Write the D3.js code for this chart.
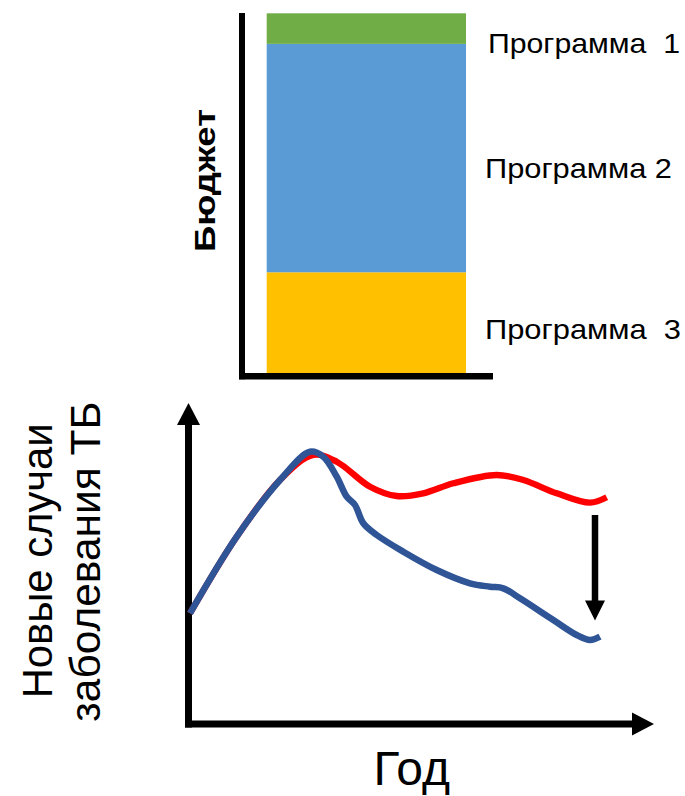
<!DOCTYPE html>
<html><head><meta charset="utf-8">
<script src="https://cdn.jsdelivr.net/npm/d3@7"></script>
<style>html,body{margin:0;padding:0;background:#fff;overflow:hidden}</style>
</head><body>
<script>
// ---- Data: top stacked budget bar (bottom to top) ----
const programLabels = ["Программа  3", "Программа 2", "Программа  1"];
const budgetShares = [28, 63.5, 8.5];
const budgetAxisLabel = "Бюджет";

// ---- Data: bottom chart (new TB cases over years) ----
const redYears  = [0.2, 4.87, 9.2, 12.53, 14.87, 18.2, 20.87, 23.53, 26.53, 30.87, 33.53, 36.87, 40.2, 41.87];
const redCases  = [11.07, 18.73, 24.4, 26.9, 26.23, 23.73, 22.8, 23.07, 24.07, 24.9, 24.4, 23.07, 22.13, 22.67];
const blueYears = [0.2, 4.87, 9.2, 12.2, 13.53, 14.87, 15.87, 16.7, 17.53, 18.87, 21.53, 24.87, 28.2, 30.2, 31.53, 33.2, 36.53, 38.87, 40.2, 41.2];
const blueCases = [11.07, 18.73, 24.4, 27.23, 26.73, 24.73, 22.73, 21.9, 20.07, 18.9, 17.23, 15.4, 14.07, 13.73, 13.57, 12.57, 10.4, 8.9, 8.4, 8.73];
const gapArrowYear = [40.7];
const gapArrowCases = [20.9, 10.35];
const casesLabelLines = ["Новые случаи", "заболевания ТБ"];
const yearLabel = "Год";

// ---- Styles ----
const programColors = ["#FFC000", "#5B9BD5", "#70AD47"];
const FONT = "'Liberation Sans', Arial, sans-serif";

const svg = d3.select("body").append("svg")
  .attr("width", 685).attr("height", 796)
  .style("display", "block");

// ================= TOP: stacked budget bar =================
const barX = d3.scaleBand().domain([budgetAxisLabel]).range([266.7, 466]).padding(0);
const budgetY = d3.scaleLinear().domain([0, 100]).range([373, 13.3]);
const ends = d3.cumsum(budgetShares);
const segs = budgetShares.map((v, i) => ({ label: programLabels[i], y0: ends[i] - v, y1: ends[i], i }));

svg.append("g").selectAll("rect").data(segs).join("rect")
  .attr("x", barX(budgetAxisLabel))
  .attr("width", barX.bandwidth())
  .attr("y", d => budgetY(d.y1))
  .attr("height", d => budgetY(d.y0) - budgetY(d.y1))
  .attr("fill", d => programColors[d.i]);

// axes
svg.append("line").attr("x1", 242).attr("x2", 242)
  .attr("y1", budgetY(100) - 0.3).attr("y2", budgetY(0) + 6.3)
  .attr("stroke", "#000").attr("stroke-width", 6);
svg.append("line").attr("x1", 239).attr("x2", 493)
  .attr("y1", budgetY(0) + 3.2).attr("y2", budgetY(0) + 3.2)
  .attr("stroke", "#000").attr("stroke-width", 6.5);

// program labels
const labelDy = [16, 19.5, 24.3];
const labelX = [485, 485, 488];
const labelLen = [196, 187, 192];
svg.append("g").selectAll("text").data(segs).join("text")
  .attr("x", d => labelX[d.i])
  .attr("y", d => budgetY((d.y0 + d.y1) / 2) + labelDy[d.i])
  .attr("font-family", FONT).attr("font-size", 27.5)
  .attr("fill", "#000")
  .style("white-space", "pre")
  .attr("textLength", d => labelLen[d.i])
  .attr("lengthAdjust", "spacingAndGlyphs")
  .text(d => d.label);

svg.append("text")
  .attr("transform", "translate(215,252) rotate(-90)")
  .attr("font-family", FONT).attr("font-size", 30).attr("font-weight", "bold")
  .attr("textLength", 143).attr("lengthAdjust", "spacingAndGlyphs")
  .text(budgetAxisLabel);

// ================= BOTTOM: cases over time =================
const x = d3.scaleLinear().domain([0, 46.6]).range([188, 654]);
const y = d3.scaleLinear().domain([0, 32.1]).range([724, 403]);

// axes with arrowheads
const axisG = svg.append("g");
axisG.append("line").attr("x1", x(0) + 0.5).attr("x2", x(0) + 0.5)
  .attr("y1", y(0) + 3.5).attr("y2", y(29.9))
  .attr("stroke", "#000").attr("stroke-width", 7);
axisG.append("path")
  .attr("d", `M${x(0)+0.5},${y(32.1)} L${x(0)+12},${y(29.9)} L${x(0)-11},${y(29.9)} Z`)
  .attr("fill", "#000");
axisG.append("line").attr("x1", x(0) - 3).attr("x2", x(44.4))
  .attr("y1", y(0)).attr("y2", y(0))
  .attr("stroke", "#000").attr("stroke-width", 7);
axisG.append("path")
  .attr("d", `M${x(46.6)},${y(0)} L${x(44.4)},${y(0)-11.5} L${x(44.4)},${y(0)+11.5} Z`)
  .attr("fill", "#000");

const line = d3.line().x(d => x(d[0])).y(d => y(d[1])).curve(d3.curveCatmullRom.alpha(0.5));
const redPts = redYears.map((t, i) => [t, redCases[i]]);
const bluePts = blueYears.map((t, i) => [t, blueCases[i]]);

svg.append("path").attr("d", line(redPts))
  .attr("fill", "none").attr("stroke", "#FF0000").attr("stroke-width", 6.3);
svg.append("path").attr("d", line(bluePts))
  .attr("fill", "none").attr("stroke", "#2F5597").attr("stroke-width", 6.5);

// gap arrow
const ax = x(gapArrowYear[0]);
svg.append("line").attr("x1", ax).attr("x2", ax)
  .attr("y1", y(gapArrowCases[0])).attr("y2", y(gapArrowCases[1]) - 18)
  .attr("stroke", "#000").attr("stroke-width", 6.5);
svg.append("path")
  .attr("d", `M${ax},${y(gapArrowCases[1])} L${ax-10},${y(gapArrowCases[1])-20} L${ax+10},${y(gapArrowCases[1])-20} Z`)
  .attr("fill", "#000");

// labels
const ylab = [{ t: casesLabelLines[0], bx: 51.7, sy: 698.3, len: 275 },
              { t: casesLabelLines[1], bx: 100, sy: 721.7, len: 320 }];
svg.append("g").selectAll("text").data(ylab).join("text")
  .attr("transform", d => `translate(${d.bx},${d.sy}) rotate(-90)`)
  .attr("font-family", FONT).attr("font-size", 43)
  .attr("textLength", d => d.len).attr("lengthAdjust", "spacingAndGlyphs")
  .text(d => d.t);

svg.append("text")
  .attr("x", 411.7).attr("y", 785)
  .attr("text-anchor", "middle")
  .attr("font-family", FONT).attr("font-size", 48)
  .text(yearLabel);
</script>
</body></html>
